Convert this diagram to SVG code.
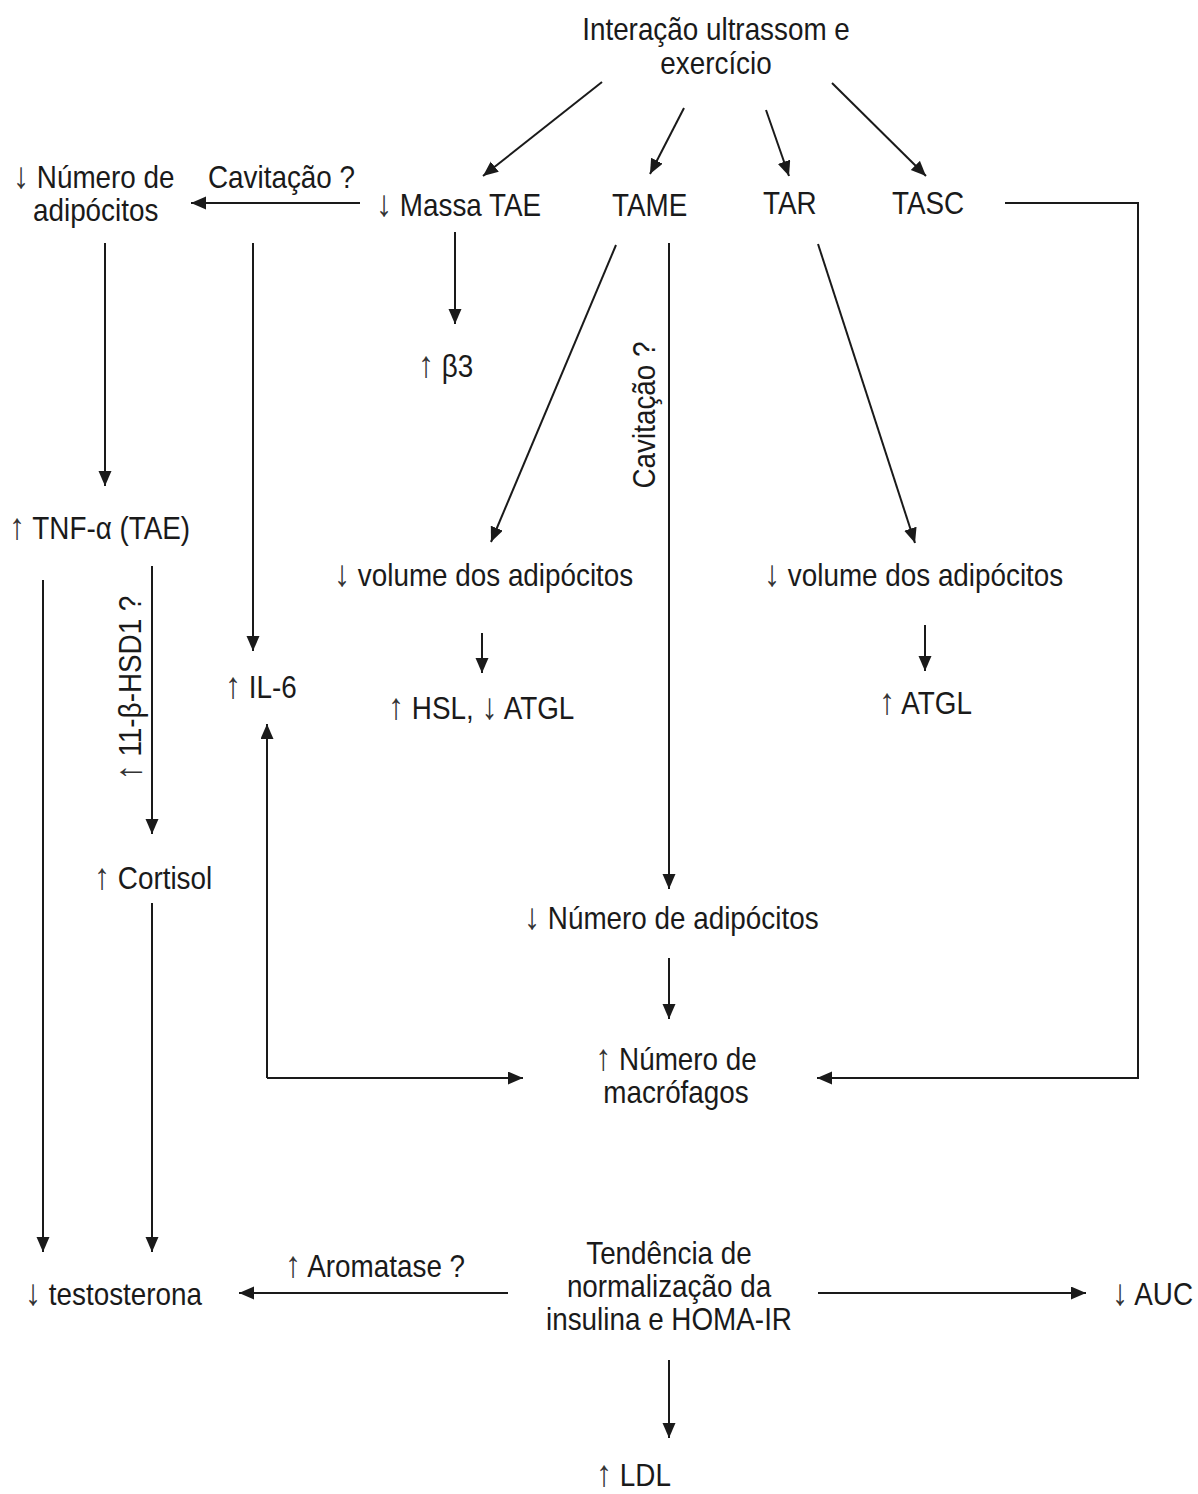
<svg xmlns="http://www.w3.org/2000/svg" width="1198" height="1494" viewBox="0 0 1198 1494">
<style>
text{font-family:"Liberation Sans",Arial,sans-serif;font-size:32px;fill:#1a1a1a}
.m{text-anchor:middle}
.ar{font-size:37px;fill:#333}
.c{stroke:#1a1a1a;stroke-width:2;fill:none}
</style>
<defs>
<marker id="ah" markerUnits="userSpaceOnUse" markerWidth="16" markerHeight="14" refX="15" refY="6.5" orient="auto">
<path d="M0,0 L15,6.5 L0,13 z" fill="#1a1a1a"/>
</marker>
</defs>
<rect width="1198" height="1494" fill="#fff"/>
<g id="connectors">
<line class="c" x1="602" y1="82" x2="483" y2="176" marker-end="url(#ah)"/>
<line class="c" x1="684" y1="108" x2="650" y2="174" marker-end="url(#ah)"/>
<line class="c" x1="766" y1="110" x2="789" y2="176" marker-end="url(#ah)"/>
<line class="c" x1="832" y1="83" x2="926" y2="176" marker-end="url(#ah)"/>
<line class="c" x1="360" y1="203" x2="191" y2="203" marker-end="url(#ah)"/>
<line class="c" x1="455" y1="232" x2="455" y2="324" marker-end="url(#ah)"/>
<line class="c" x1="105" y1="243" x2="105" y2="486" marker-end="url(#ah)"/>
<line class="c" x1="253" y1="243" x2="253" y2="651" marker-end="url(#ah)"/>
<line class="c" x1="616" y1="245" x2="491" y2="542" marker-end="url(#ah)"/>
<line class="c" x1="669" y1="243" x2="669" y2="889" marker-end="url(#ah)"/>
<line class="c" x1="818" y1="244" x2="915" y2="543" marker-end="url(#ah)"/>
<polyline class="c" points="1005,203 1138,203 1138,1078 817,1078" marker-end="url(#ah)"/>
<line class="c" x1="482" y1="633" x2="482" y2="673" marker-end="url(#ah)"/>
<line class="c" x1="925" y1="625" x2="925" y2="671" marker-end="url(#ah)"/>
<line class="c" x1="152" y1="566" x2="152" y2="834" marker-end="url(#ah)"/>
<line class="c" x1="43" y1="580" x2="43" y2="1252" marker-end="url(#ah)"/>
<line class="c" x1="152" y1="903" x2="152" y2="1252" marker-end="url(#ah)"/>
<polyline class="c" points="267,1078 267,724" marker-end="url(#ah)"/>
<polyline class="c" points="267,1078 523,1078" marker-end="url(#ah)"/>
<line class="c" x1="669" y1="958" x2="669" y2="1019" marker-end="url(#ah)"/>
<line class="c" x1="508" y1="1293" x2="239" y2="1293" marker-end="url(#ah)"/>
<line class="c" x1="818" y1="1293" x2="1086" y2="1293" marker-end="url(#ah)"/>
<line class="c" x1="669" y1="1360" x2="669" y2="1438" marker-end="url(#ah)"/>
</g>
<g id="n-interacao"><text class="m" transform="translate(716,40) scale(.87,1)">Interação ultrassom e</text><text class="m" transform="translate(716,74) scale(.87,1)">exercício</text></g>
<g id="n-numero-adip"><text transform="translate(13,188) scale(.87,1)"><tspan class="ar">↓</tspan> Número de</text><text transform="translate(33,221) scale(.87,1)">adipócitos</text></g>
<g id="l-cavitacao1"><text transform="translate(208,188) scale(.87,1)">Cavitação ?</text></g>
<g id="n-massa"><text transform="translate(376,216) scale(.87,1)"><tspan class="ar">↓</tspan> Massa TAE</text></g>
<g id="n-tame"><text transform="translate(612,216) scale(.87,1)">TAME</text></g>
<g id="n-tar"><text transform="translate(763,214) scale(.87,1)">TAR</text></g>
<g id="n-tasc"><text transform="translate(892,214) scale(.87,1)">TASC</text></g>
<g id="n-b3"><text transform="translate(418,377) scale(.87,1)"><tspan class="ar">↑</tspan> β3</text></g>
<g id="n-tnf"><text transform="translate(9,539) scale(.87,1)"><tspan class="ar">↑</tspan> TNF-α (TAE)</text></g>
<g id="l-cavitacao2"><text class="m" transform="translate(655,415) rotate(-90) scale(.87,1)">Cavitação ?</text></g>
<g id="l-hsd"><text class="m" transform="translate(141,688) rotate(-90) scale(.87,1)"><tspan class="ar">↑</tspan> 11-β-HSD1 ?</text></g>
<g id="n-vol1"><text transform="translate(334,586) scale(.87,1)"><tspan class="ar">↓</tspan> volume dos adipócitos</text></g>
<g id="n-vol2"><text transform="translate(764,586) scale(.87,1)"><tspan class="ar">↓</tspan> volume dos adipócitos</text></g>
<g id="n-il6"><text transform="translate(225,698) scale(.87,1)"><tspan class="ar">↑</tspan> IL-6</text></g>
<g id="n-hsl"><text transform="translate(388,719) scale(.87,1)"><tspan class="ar">↑</tspan> HSL, <tspan class="ar">↓</tspan> ATGL</text></g>
<g id="n-atgl"><text transform="translate(879,714) scale(.87,1)"><tspan class="ar">↑</tspan> ATGL</text></g>
<g id="n-cortisol"><text transform="translate(94,889) scale(.87,1)"><tspan class="ar">↑</tspan> Cortisol</text></g>
<g id="n-numero-adip2"><text transform="translate(524,929) scale(.87,1)"><tspan class="ar">↓</tspan> Número de adipócitos</text></g>
<g id="n-macro"><text class="m" transform="translate(676,1070) scale(.87,1)"><tspan class="ar">↑</tspan> Número de</text><text class="m" transform="translate(676,1103) scale(.87,1)">macrófagos</text></g>
<g id="n-tendencia"><text class="m" transform="translate(669,1264) scale(.87,1)">Tendência de</text><text class="m" transform="translate(669,1297) scale(.87,1)">normalização da</text><text class="m" transform="translate(669,1330) scale(.87,1)">insulina e HOMA-IR</text></g>
<g id="l-aromatase"><text transform="translate(285,1277) scale(.87,1)"><tspan class="ar">↑</tspan> Aromatase ?</text></g>
<g id="n-testo"><text transform="translate(25,1305) scale(.87,1)"><tspan class="ar">↓</tspan> testosterona</text></g>
<g id="n-auc"><text transform="translate(1112,1305) scale(.87,1)"><tspan class="ar">↓</tspan> AUC</text></g>
<g id="n-ldl"><text transform="translate(596,1486) scale(.87,1)"><tspan class="ar">↑</tspan> LDL</text></g>
</svg>
